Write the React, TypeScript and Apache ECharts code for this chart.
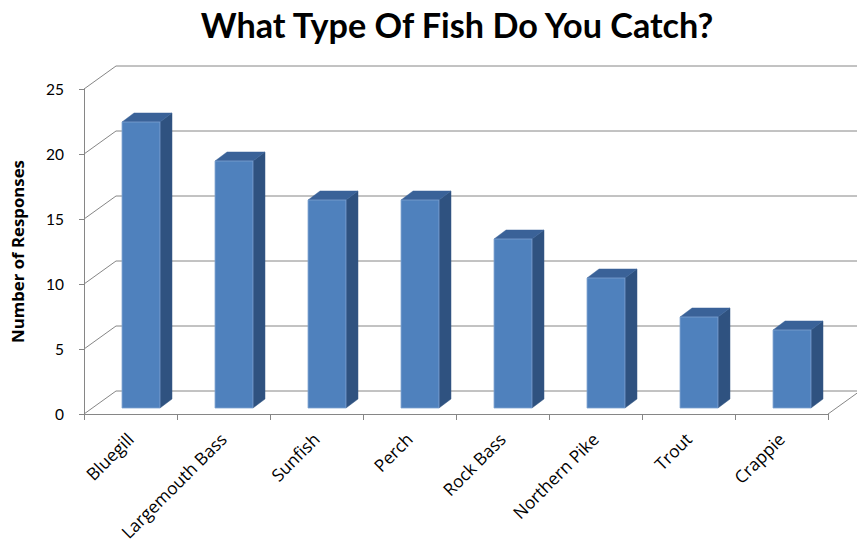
import React, { useEffect, useRef } from "react";
import * as echarts from "echarts";

const categories = ["Bluegill", "Largemouth Bass", "Sunfish", "Perch", "Rock Bass", "Northern Pike", "Trout", "Crappie"];
const responses = [22, 19, 16, 16, 13, 10, 7, 6];
const yTicks = [0, 5, 10, 15, 20, 25];

const FONT = "Lato, 'Open Sans', sans-serif";
const WIDE_FONT = "'Open Sans', Lato, sans-serif";
const DEPTH_X = 32;
const DEPTH_Y = -23;
const GRID_COLOR = "#868686";

export default function App() {
  const ref = useRef<HTMLDivElement>(null);
  useEffect(() => {
    if (!ref.current) return;
    const chart = echarts.init(ref.current, null, { renderer: "svg" });
    chart.setOption({
      animation: false,
      backgroundColor: "#ffffff",
      title: {
        text: "What Type Of Fish Do You Catch?",
        left: 452,
        textAlign: "center",
        top: 2,
        textStyle: { fontFamily: FONT, fontSize: 34.2, fontWeight: "bold", color: "#000" },
      },
      grid: { left: 84, right: 29, top: 89, bottom: 136, containLabel: false },
      xAxis: {
        type: "category",
        data: categories,
        axisLine: { show: true, lineStyle: { color: GRID_COLOR, width: 1 } },
        axisTick: { show: true, length: 6, lineStyle: { color: GRID_COLOR } },
        axisLabel: {
          rotate: 45,
          margin: 22,
          fontFamily: WIDE_FONT,
          fontSize: 17.3,
          color: "#000",
          interval: 0,
        },
      },
      yAxis: {
        type: "value",
        min: 0,
        max: 25,
        interval: 5,
        name: "Number of Responses",
        nameLocation: "middle",
        nameGap: 58,
        nameTextStyle: { fontFamily: WIDE_FONT, fontSize: 16.8, fontWeight: "bold", color: "#000" },
        axisLine: { show: true, lineStyle: { color: GRID_COLOR, width: 1 } },
        axisTick: { show: true, length: 5, lineStyle: { color: GRID_COLOR } },
        axisLabel: { margin: 20, fontFamily: FONT, fontSize: 15.5, color: "#000" },
        splitLine: { show: false },
      },
      series: [
        {
          type: "custom",
          z: 1,
          silent: true,
          data: yTicks.map((v) => [0, v]),
          renderItem: (params: any, api: any) => {
            const cs = params.coordSys;
            const v = api.value(1);
            const y = api.coord([0, v])[1];
            const x0 = cs.x;
            const bx = x0 + DEPTH_X;
            const by = y + DEPTH_Y;
            const style = { stroke: GRID_COLOR, lineWidth: 1, fill: "none" };
            const children: any[] = [
              { type: "line", shape: { x1: x0, y1: y, x2: bx, y2: by }, style },
              { type: "line", shape: { x1: bx, y1: by, x2: cs.x + cs.width + DEPTH_X + 5, y2: by }, style },
            ];
            if (v === 0) {
              const xr = cs.x + cs.width;
              children.push({ type: "line", shape: { x1: xr, y1: y, x2: xr + DEPTH_X, y2: y + DEPTH_Y }, style });
            }
            return { type: "group", children };
          },
        },
        {
          type: "custom",
          z: 5,
          data: responses.map((v, i) => [i, v]),
          renderItem: (params: any, api: any) => {
            const idx = api.value(0);
            const val = api.value(1);
            const top = api.coord([idx, val]);
            const base = api.coord([idx, 0]);
            const bw = api.size([1, 0])[0];
            const cx = top[0];
            const shiftY = -6;
            const xl = cx - bw * 0.091;
            const xr = cx + bw * 0.317;
            const yt = top[1] + shiftY;
            const yb = base[1] + shiftY;
            const dx = 12;
            const dy = -9;
            return {
              type: "group",
              children: [
                {
                  type: "polygon",
                  shape: { points: [[xr, yt], [xr + dx, yt + dy], [xr + dx, yb + dy], [xr, yb]] },
                  style: { fill: "#2f5280", stroke: "#2f5280", lineWidth: 0.5 },
                },
                {
                  type: "polygon",
                  shape: { points: [[xl, yt], [xl + dx, yt + dy], [xr + dx, yt + dy], [xr, yt]] },
                  style: { fill: "#3a6298", stroke: "#3a6298", lineWidth: 0.5 },
                },
                {
                  type: "rect",
                  shape: { x: xl, y: yt, width: xr - xl, height: yb - yt },
                  style: { fill: "#4f81bd", stroke: "#7da2d0", lineWidth: 0.8 },
                },
              ],
            };
          },
        },
      ],
    });
    return () => chart.dispose();
  }, []);
  return (
    <div
      ref={ref}
      style={{ position: "fixed", left: 0, top: 0, width: 857, height: 550, background: "#fff" }}
    />
  );
}
